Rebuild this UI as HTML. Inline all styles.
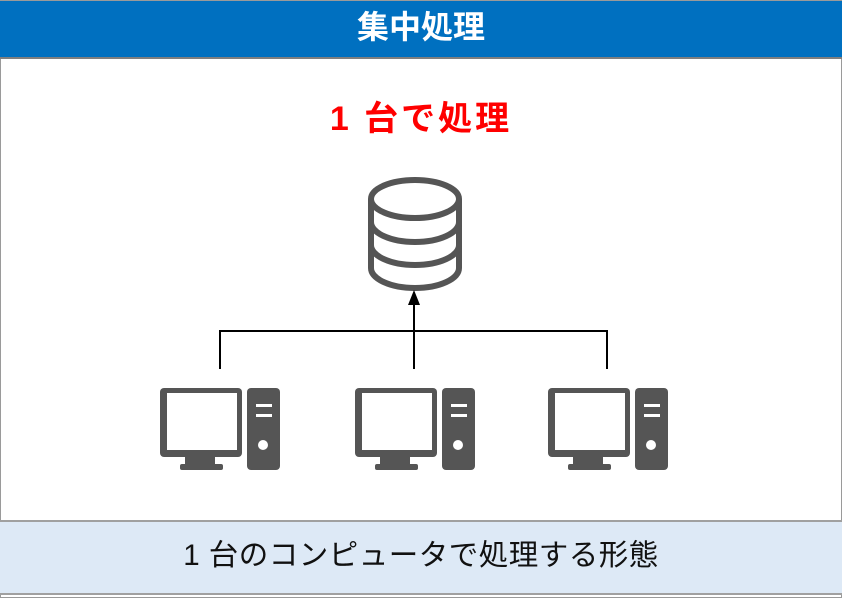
<!DOCTYPE html>
<html><head><meta charset="utf-8"><style>
html,body{margin:0;padding:0;background:#fff;}
body{width:842px;height:598px;position:relative;overflow:hidden;font-family:"Liberation Sans","Noto Sans CJK JP",sans-serif;}
.t{position:absolute;left:0;width:842px;text-align:center;white-space:nowrap;}
</style></head><body>
<div style="position:absolute;left:0;top:0;width:842px;height:598px;box-sizing:border-box;border:1px solid #9a9a9a;"></div>
<div style="position:absolute;left:0;top:1px;width:842px;height:56px;background:#0070c0;border-bottom:2px solid #7f7f7f;"></div>
<div class="t" style="top:6px;font-size:32px;font-weight:bold;color:#fff;line-height:42px;">集中処理</div>
<div class="t" style="top:97px;font-size:34px;font-weight:bold;color:#ff0000;line-height:44px;letter-spacing:3px;">1 台で処理</div>
<div style="position:absolute;left:0;top:520px;width:842px;height:75px;background:#dde9f6;border-top:2px solid #a0a0a0;border-bottom:2px solid #a0a0a0;box-sizing:border-box;"></div>
<div class="t" style="top:535px;font-size:29.5px;color:#111;line-height:42px;letter-spacing:0.5px;">1 台のコンピュータで処理する形態</div>
<svg width="842" height="598" style="position:absolute;left:0;top:0">
<g fill="none" stroke="#555" stroke-width="6">
<path d="M371 199 V268 A44 20 0 0 0 459 268 V199"/>
<ellipse cx="415" cy="199" rx="44" ry="19"/>
<path d="M371 222 A44 20 0 0 0 459 222"/>
<path d="M371 245 A44 20 0 0 0 459 245"/>
</g>
<g stroke="#000" stroke-width="2" fill="none">
<path d="M220 369 V331 H607 V369"/>
<path d="M414 369 V302"/>
</g>
<polygon points="414,290 408,305 420,305" fill="#000"/>
<defs>
<g id="pc">
<rect x="0" y="0" width="82" height="69" rx="4" fill="#555"/>
<rect x="7" y="5" width="70" height="57" fill="#fff"/>
<rect x="25" y="68" width="30" height="8" fill="#555"/>
<rect x="20" y="76" width="43" height="6" rx="2" fill="#555"/>
<rect x="87" y="0" width="33" height="82" rx="4" fill="#555"/>
<rect x="96" y="16" width="16" height="3" fill="#fff"/>
<rect x="96" y="26" width="16" height="3" fill="#fff"/>
<circle cx="103" cy="57" r="5" fill="#fff"/>
</g>
</defs>
<use href="#pc" x="160" y="388"/>
<use href="#pc" x="355" y="388"/>
<use href="#pc" x="548" y="388"/>
</svg>
</body></html>
